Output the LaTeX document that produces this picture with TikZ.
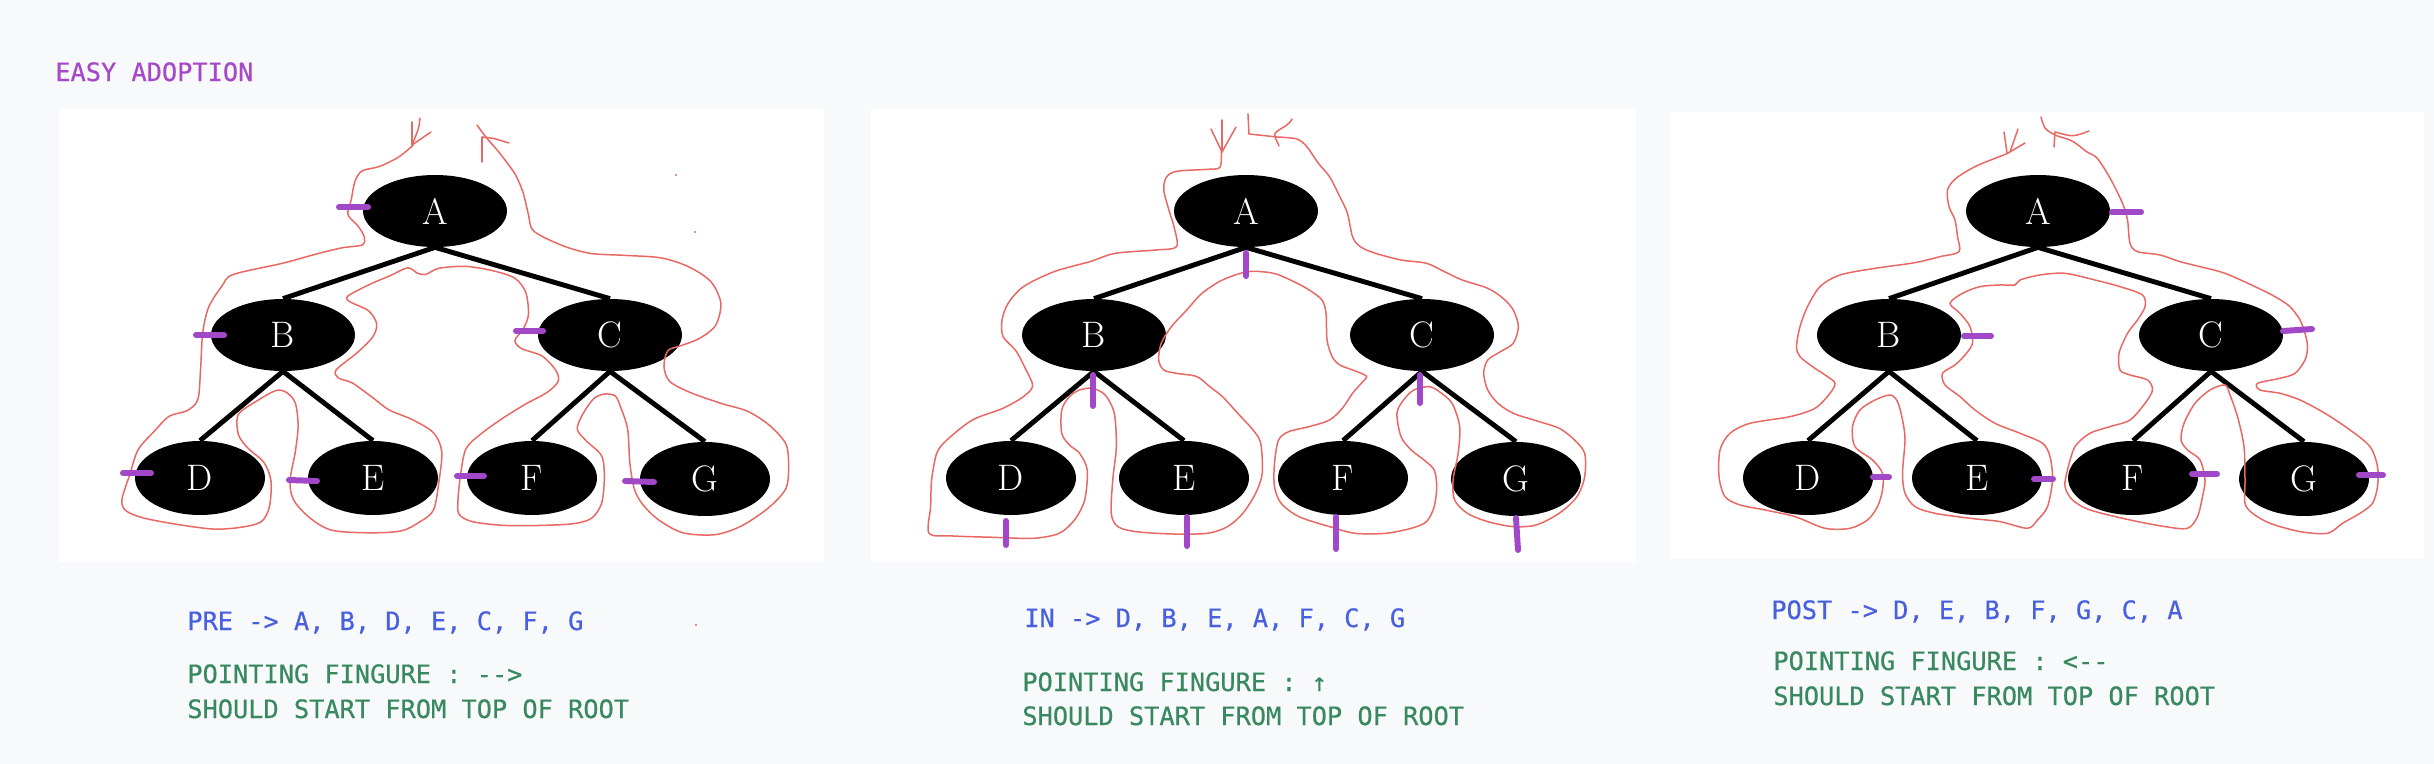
\documentclass[tikz,border=0pt]{standalone}
\usepackage{fontspec}
\setmonofont{DejaVu Sans Mono}[FakeBold=0.5]
\usetikzlibrary{shapes.geometric}

\definecolor{pagebg}{RGB}{248,249,251}
\definecolor{titlepurple}{RGB}{166,72,200}
\definecolor{penpurple}{RGB}{160,72,200}
\definecolor{textblue}{RGB}{72,96,224}
\definecolor{textgreen}{RGB}{56,136,96}
\definecolor{penred}{RGB}{232,104,100}

\tikzset{
  treenode/.style={ellipse, fill=black, text=white, inner sep=0pt,
    minimum width=2.88cm, minimum height=1.44cm, font=\fontsize{21}{21}\selectfont},
  leafnode/.style={treenode, minimum width=2.6cm, minimum height=1.48cm},
  treeedge/.style={line width=2.8pt},
  redpen/.style={penred, line width=0.85pt, line cap=round, line join=round},
  purplepen/.style={penpurple, line width=3.4pt, line cap=round},
  caption/.style={anchor=base west, inner sep=0pt, font=\ttfamily\fontsize{14.4}{17}\selectfont},
}

\begin{document}
\begin{tikzpicture}[x=0.02cm, y=-0.02cm]
  \fill[pagebg] (0,0) rectangle (2434,764);
  \useasboundingbox (0,0) rectangle (2434,764);

  % white sheets
  \fill[white] (59,109) rectangle (824,562);
  \fill[white] (871,109) rectangle (1636,562);
  \fill[white] (1670,112) rectangle (2424,559);

  % the same tree three times
  \foreach \p/\xa/\xb/\xc/\xd/\xe/\xf/\xg in {1/435/283/610/200/373/532/705,
      2/1246/1094/1422/1011/1184/1343/1516, 3/2038/1889/2211/1808/1977/2133/2304}{
    \node[treenode] (A\p) at (\xa,211) {A};
    \node[treenode] (B\p) at (\xb,335) {B};
    \node[treenode] (C\p) at (\xc,335) {C};
    \node[leafnode] (D\p) at (\xd,478) {D};
    \node[leafnode] (E\p) at (\xe,478) {E};
    \node[leafnode] (F\p) at (\xf,478) {F};
    \node[leafnode] (G\p) at (\xg,479) {G};
    \draw[treeedge] (A\p.south) -- (B\p.north);
    \draw[treeedge] (A\p.south) -- (C\p.north);
    \draw[treeedge] (B\p.south) -- (D\p.north);
    \draw[treeedge] (B\p.south) -- (E\p.north);
    \draw[treeedge] (C\p.south) -- (F\p.north);
    \draw[treeedge] (C\p.south) -- (G\p.north);
  }

  % hand drawn walk, pre order
  \begin{scope}[xscale=0.542, yscale=0.370]
    \draw[redpen] plot[smooth] coordinates {(762,393) (735,425) (700,450) (668,462) (655,490) (648,540)
      (642,580) (660,610) (672,640) (668,662) (630,670) (580,688) (520,712) (430,742) (410,772) (385,830)
      (374,900) (370,1000) (365,1080) (345,1110) (312,1125) (285,1165) (255,1215) (240,1280) (225,1350)
      (232,1380) (265,1400) (330,1418) (395,1430) (445,1425) (482,1410) (497,1370) (500,1300) (487,1250)
      (458,1212) (440,1175) (440,1120) (478,1080) (510,1055) (530,1062) (545,1090) (550,1150) (545,1220)
      (535,1300) (542,1352) (572,1400) (612,1433) (680,1440) (740,1435) (775,1410) (800,1378) (810,1300)
      (815,1220) (800,1170) (762,1135) (718,1108) (688,1075) (650,1035) (625,1022) (620,1000) (660,952)
      (688,910) (695,875) (680,840) (645,815) (642,800) (680,770) (720,745) (752,724) (770,738) (785,742)
      (810,725) (860,720) (910,732) (950,752) (970,790) (975,850) (965,890) (950,920) (962,942) (1000,962)
      (1025,1000) (1030,1030) (1010,1060) (970,1092) (928,1130) (888,1172) (860,1212) (850,1280) (845,1350)
      (847,1390) (872,1410) (930,1420) (1000,1420) (1060,1415) (1092,1400) (1110,1360) (1115,1290)
      (1110,1232) (1082,1192) (1065,1160) (1075,1120) (1095,1078) (1115,1065) (1135,1070) (1145,1100)
      (1158,1160) (1162,1250) (1170,1320) (1185,1362) (1215,1405) (1260,1440) (1320,1445) (1370,1420)
      (1420,1370) (1450,1320) (1455,1260) (1450,1200) (1420,1150) (1380,1112) (1330,1090) (1272,1060)
      (1235,1030) (1225,990) (1232,948) (1255,935) (1290,915) (1320,880) (1330,820) (1312,762) (1272,722)
      (1220,697) (1150,690) (1090,685) (1040,665) (985,625) (975,580) (965,520) (950,470) (922,414)
      (898,373) (880,338)};
  \end{scope}
  \draw[redpen] (412,122) -- (412,145);
  \draw[redpen] (420,118) .. controls (419,128) .. (412,145);
  \draw[redpen] (431,132) -- (412,145);
  \draw[redpen] (482,137) -- (482,162);
  \draw[redpen] (482,137) .. controls (493,138) .. (509,143);
  \fill[penred] (676,175) circle (0.6pt) (695,232) circle (0.6pt) (696,625) circle (0.6pt);

  % hand drawn walk, in order
  \begin{scope}[shift={(850,80)}, xscale=0.5102, yscale=0.3333]
    \draw[redpen] plot[smooth] coordinates {(728,215) (725,262) (700,268) (640,274) (620,292) (615,330)
      (625,390) (635,440) (640,500) (600,510) (520,520) (470,545) (400,575) (340,620) (310,670) (298,720)
      (300,770) (325,812) (345,870) (358,918) (340,950) (300,985) (240,1020) (190,1080) (170,1120)
      (160,1200) (158,1280) (155,1360) (200,1368) (280,1372) (360,1375) (410,1360) (440,1320) (460,1260)
      (465,1170) (450,1120) (430,1095) (415,1060) (415,990) (430,950) (450,930) (475,925) (500,945)
      (518,1000) (522,1100) (515,1200) (512,1300) (525,1340) (560,1355) (630,1362) (700,1360) (740,1340)
      (770,1300) (795,1240) (808,1180) (805,1090) (790,1050) (760,1000) (730,950) (705,920) (680,890)
      (640,880) (615,870) (605,840) (610,790) (630,740) (660,690) (690,640) (730,600) (780,575) (830,580)
      (870,605) (900,630) (925,660) (933,700) (935,780) (945,830) (960,855) (985,870) (1012,888)
      (1005,905) (985,940) (965,985) (940,1020) (900,1040) (860,1055) (840,1080) (832,1150) (832,1220)
      (845,1270) (880,1310) (940,1340) (990,1360) (1050,1360) (1100,1345) (1130,1325) (1145,1280)
      (1150,1220) (1145,1170) (1125,1140) (1100,1110) (1080,1070) (1072,1000) (1085,960) (1105,930)
      (1135,920) (1155,935) (1180,970) (1195,1040) (1192,1120) (1182,1200) (1185,1260) (1210,1300)
      (1250,1325) (1300,1340) (1345,1335) (1390,1300) (1425,1250) (1440,1190) (1440,1120) (1420,1080)
      (1390,1045) (1340,1020) (1300,1000) (1270,970) (1250,930) (1242,880) (1250,840) (1275,815)
      (1300,790) (1310,740) (1300,690) (1280,655) (1250,625) (1200,600) (1165,575) (1130,550) (1080,540)
      (1030,520) (1000,500) (985,470) (975,400) (960,350) (940,290) (918,250) (896,201) (876,177)
      (837,171)} -- (782,162) -- (780,102);
  \end{scope}
  \draw[redpen] (1222,120) -- (1222,152);
  \draw[redpen] (1211,129) -- (1222,152);
  \draw[redpen] (1236,127) -- (1222,152);
  \draw[redpen] (1292,119) .. controls (1288,128) and (1272,130) .. (1275,137) -- (1279,146);

  % hand drawn walk, post order
  \begin{scope}[shift={(1650,80)}, xscale=0.5, yscale=0.3333]
    \draw[redpen] plot[smooth] coordinates {(716,220) (690,235) (650,260) (612,295) (595,330) (598,380)
      (610,420) (615,470) (618,515) (580,530) (530,548) (450,565) (380,585) (340,620) (315,680) (300,740)
      (293,800) (300,830) (325,860) (355,890) (370,910) (360,940) (330,985) (280,1010) (200,1030)
      (160,1060) (140,1110) (138,1190) (150,1250) (180,1275) (230,1290) (290,1310) (350,1345) (400,1345)
      (435,1320) (455,1280) (465,1230) (465,1180) (445,1140) (410,1100) (405,1040) (420,990) (450,960)
      (480,945) (495,965) (505,1020) (510,1080) (505,1180) (510,1240) (530,1280) (570,1300) (640,1315)
      (700,1325) (755,1345) (775,1320) (795,1280) (805,1200) (800,1130) (785,1090) (740,1060) (690,1030)
      (650,990) (620,950) (590,915) (585,880) (610,855) (630,825) (645,790) (640,740) (620,700) (600,670)
      (625,640) (660,620) (700,615) (730,615) (740,600) (780,585) (830,580) (890,600) (940,620) (985,645)
      (990,680) (975,720) (955,760) (938,820) (940,870) (960,885) (995,900) (1005,930) (990,970)
      (960,1020) (920,1040) (880,1060) (850,1100) (835,1170) (830,1220) (845,1260) (880,1290) (960,1320)
      (1030,1340) (1075,1345) (1095,1310) (1105,1250) (1110,1200) (1100,1140) (1075,1110) (1062,1080)
      (1068,1030) (1090,970) (1120,930) (1150,915) (1160,945) (1175,1010) (1188,1100) (1190,1200)
      (1190,1270) (1205,1300) (1240,1330) (1300,1355) (1355,1360) (1385,1330) (1420,1300) (1445,1270)
      (1455,1220) (1455,1160) (1440,1100) (1400,1050) (1350,1000) (1300,960) (1260,940) (1220,930)
      (1215,910) (1260,895) (1290,880) (1310,840) (1315,800) (1310,760) (1300,720) (1280,680) (1250,650)
      (1210,620) (1150,580) (1100,560) (1060,545) (1020,525) (975,515) (960,490) (955,420) (945,370)
      (920,294) (894,234) (874,216) (856,195) (840,180) (810,165) (790,144) (782,111)};
  \end{scope}
  \draw[redpen] (2004,132) -- (2007,153);
  \draw[redpen] (2018,129) -- (2010,152);
  \draw[redpen] (2025,143) -- (2008,153);
  \draw[redpen] (2055,132) -- (2054,147);
  \draw[redpen] (2055,132) .. controls (2073,137) .. (2089,131);

  % finger marks
  \draw[purplepen] (339,207) -- (368,207);
  \draw[purplepen] (196,335) -- (224,335);
  \draw[purplepen] (516,331) -- (543,331);
  \draw[purplepen] (123,473) -- (151,473);
  \draw[purplepen] (289,480) -- (317,481);
  \draw[purplepen] (457,476) -- (484,476);
  \draw[purplepen] (625,481) -- (654,482);

  \draw[purplepen] (1246,253) -- (1246,276);
  \draw[purplepen] (1093,375) -- (1093,406);
  \draw[purplepen] (1420,375) -- (1420,403);
  \draw[purplepen] (1006,521) -- (1006,545);
  \draw[purplepen] (1187,517) -- (1187,546);
  \draw[purplepen] (1336,517) -- (1336,549);
  \draw[purplepen] (1516,518) -- (1518,550);

  \draw[purplepen] (2112,212) -- (2141,212);
  \draw[purplepen] (1964,336) -- (1991,336);
  \draw[purplepen] (2283,331) -- (2312,329);
  \draw[purplepen] (1873,477) -- (1889,477);
  \draw[purplepen] (2034,479) -- (2053,479);
  \draw[purplepen] (2192,474) -- (2217,474);
  \draw[purplepen] (2359,475) -- (2383,475);

  % texts
  \node[caption, text=titlepurple] (title) at (55,81) {EASY ADOPTION};

  \node[caption, text=textblue] (preOrder) at (187,630) {PRE -> A, B, D, E, C, F, G};
  \node[caption, text=textgreen] (preHint) at (187,683) {POINTING FINGURE : -->};
  \node[caption, text=textgreen] (preStart) at (187,718) {SHOULD START FROM TOP OF ROOT};

  \node[caption, text=textblue] (inOrder) at (1024,627) {IN -> D, B, E, A, F, C, G};
  \node[caption, text=textgreen] (inHint) at (1022,691) {POINTING FINGURE : ↑};
  \node[caption, text=textgreen] (inStart) at (1022,725) {SHOULD START FROM TOP OF ROOT};

  \node[caption, text=textblue] (postOrder) at (1771,619) {POST -> D, E, B, F, G, C, A};
  \node[caption, text=textgreen] (postHint) at (1773,670) {POINTING FINGURE : <--};
  \node[caption, text=textgreen] (postStart) at (1773,705) {SHOULD START FROM TOP OF ROOT};
\end{tikzpicture}
\end{document}
